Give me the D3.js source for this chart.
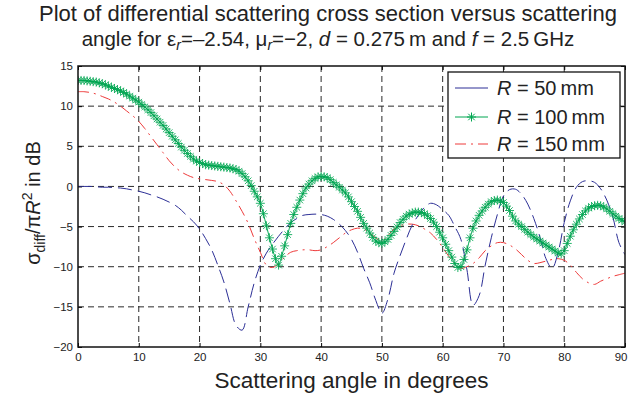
<!DOCTYPE html>
<html>
<head>
<meta charset="utf-8">
<script src="https://cdn.jsdelivr.net/npm/d3@7"></script>
<style>
  body { margin: 0; background: #fff; }
  text { font-family: "Liberation Sans", Arial, Helvetica, sans-serif; }
</style>
</head>
<body>
<div id="chart"></div>
<script>
// scattering angle in degrees
var angle = d3.range(0, 91);           // 1 degree steps (R = 50, 150)
var angleFine = d3.range(0, 90.5, 0.5); // 0.5 degree steps (R = 100)

// R = 50 mm
var r50 = [
  0.0, 0.0, 0.0, -0.05, -0.1, -0.1, -0.15, -0.2, -0.3, -0.45,
  -0.6, -0.8, -1.05, -1.3, -1.6, -1.95, -2.35, -2.95, -3.7, -4.4,
  -5.3, -6.5, -7.9, -9.8, -11.9, -14.6, -17.3, -17.9, -15.0, -12.0,
  -9.8, -8.3, -7.2, -6.2, -5.3, -4.5, -4.0, -3.6, -3.5, -3.45,
  -3.5, -3.7, -4.1, -4.7, -5.5, -6.6, -8.2, -10.2, -12.0, -14.2,
  -15.8, -14.0, -10.8, -8.6, -6.6, -4.8, -3.6, -2.6, -2.1, -2.3,
  -2.9, -3.6, -5.0, -6.6, -10.4, -14.8, -13.6, -9.8, -6.4, -3.5,
  -1.2, -0.4, -0.35, -1.0, -2.2, -4.0, -6.3, -9.0, -10.2, -8.2,
  -4.5, -1.8, -0.1, 0.6, 0.7, 0.5, -0.3, -1.7, -3.8, -7.0,
  -8.5
];

// R = 100 mm
var r100 = [
  13.2, 13.2, 13.2, 13.15, 13.1, 13.05, 13.0, 12.9, 12.8, 12.65,
  12.5, 12.35, 12.2, 12.05, 11.9, 11.7, 11.5, 11.25, 11.0, 10.75,
  10.5, 10.2, 9.9, 9.55, 9.2, 8.8, 8.4, 8.0, 7.6, 7.15,
  6.7, 6.25, 5.8, 5.35, 4.9, 4.5, 4.1, 3.75, 3.4, 3.15,
  3.0, 2.85, 2.7, 2.65, 2.6, 2.55, 2.5, 2.45, 2.4, 2.35,
  2.3, 2.2, 2.1, 1.9, 1.6, 1.2, 0.7, 0.1, -0.6, -1.3,
  -2.1, -3.4, -4.9, -6.4, -7.8, -9.0, -9.8, -8.7, -7.4, -6.0,
  -4.6, -3.5, -2.6, -1.7, -0.9, -0.2, 0.3, 0.7, 1.0, 1.2,
  1.25, 1.2, 1.1, 0.85, 0.5, 0.2, -0.1, -0.45, -0.8, -1.3,
  -1.9, -2.5, -3.1, -3.85, -4.6, -5.2, -5.8, -6.35, -6.8, -7.0,
  -7.1, -6.9, -6.6, -6.1, -5.6, -5.05, -4.5, -4.1, -3.7, -3.45,
  -3.3, -3.2, -3.2, -3.25, -3.4, -3.65, -4.0, -4.45, -5.0, -5.7,
  -6.4, -7.2, -8.0, -8.8, -9.6, -10.1, -10.0, -9.1, -7.9, -6.4,
  -5.2, -4.3, -3.6, -3.05, -2.6, -2.2, -1.9, -1.75, -1.7, -1.8,
  -2.0, -2.45, -3.0, -3.7, -4.3, -4.7, -5.0, -5.35, -5.7, -6.0,
  -6.3, -6.55, -6.8, -7.05, -7.3, -7.55, -7.8, -8.05, -8.3, -8.4,
  -8.0, -7.1, -6.2, -5.4, -4.7, -4.05, -3.5, -3.05, -2.7, -2.5,
  -2.4, -2.35, -2.4, -2.55, -2.8, -3.1, -3.4, -3.7, -4.0, -4.2,
  -4.4
];

// R = 150 mm
var r150 = [
  11.8, 11.8, 11.7, 11.5, 11.2, 10.9, 10.5, 10.0, 9.4, 8.8,
  8.1, 7.2, 6.2, 5.2, 4.2, 3.2, 2.4, 1.8, 1.4, 1.1,
  0.95, 0.85, 0.75, 0.6, 0.2, -0.6, -1.8, -3.1, -4.6, -6.5,
  -8.2, -9.8, -10.1, -9.6, -8.8, -8.2, -8.0, -7.9, -7.9, -8.0,
  -7.9, -7.5, -7.0, -6.4, -5.8, -5.4, -5.2, -5.3, -5.8, -6.4,
  -6.8, -6.1, -5.3, -4.9, -4.7, -4.7, -4.9, -5.3, -5.8, -6.6,
  -7.6, -8.7, -9.6, -10.2, -10.0, -9.6, -8.9, -8.0, -7.4, -7.0,
  -7.0, -7.3, -7.8, -8.5, -9.2, -9.6, -9.5, -9.3, -9.1, -9.0,
  -9.2, -9.8, -10.7, -11.5, -12.0, -12.2, -11.8, -11.5, -11.2, -11.0,
  -10.8
];

var xTicks = [0, 10, 20, 30, 40, 50, 60, 70, 80, 90];
var yTicks = [15, 10, 5, 0, -5, -10, -15, -20];
var legendLabels = ["50", "100", "150"];

// set the graph
var W = 629, H = 396;
var margin = {top: 66, right: 4, bottom: 49, left: 78},
    width = W - margin.left - margin.right,
    height = H - margin.top - margin.bottom;

var svg = d3.select("#chart")
  .append("svg")
    .attr("width", W)
    .attr("height", H);

var g = svg.append("g")
    .attr("transform", "translate(" + margin.left + "," + margin.top + ")");

var x = d3.scaleLinear().domain([0, 90]).range([0, width]);
var y = d3.scaleLinear().domain([-20, 15]).range([height, 0]);

// grid
g.append("g").selectAll("line")
  .data(xTicks.slice(1, -1))
  .enter().append("line")
    .attr("x1", d => x(d)).attr("x2", d => x(d))
    .attr("y1", 0).attr("y2", height)
    .attr("stroke", "#2a2a2a").attr("stroke-width", 1)
    .attr("stroke-dasharray", "6,4");
g.append("g").selectAll("line")
  .data(yTicks.slice(1, -1))
  .enter().append("line")
    .attr("y1", d => y(d)).attr("y2", d => y(d))
    .attr("x1", 0).attr("x2", width)
    .attr("stroke", "#2a2a2a").attr("stroke-width", 1)
    .attr("stroke-dasharray", "6,4");

// axes (ticks inside, MATLAB style)
var xAxis = g.append("g")
  .attr("transform", "translate(0," + height + ")")
  .call(d3.axisBottom(x).tickValues(xTicks).tickSizeInner(-4).tickSizeOuter(0).tickPadding(8));
var yAxis = g.append("g")
  .call(d3.axisLeft(y).tickValues(yTicks).tickSizeInner(-4).tickSizeOuter(0).tickPadding(8));
g.append("g")
  .attr("transform", "translate(" + width + ",0)")
  .call(d3.axisRight(y).tickValues(yTicks).tickSizeInner(-4).tickSizeOuter(0).tickFormat(""));
g.append("g")
  .call(d3.axisTop(x).tickValues(xTicks).tickSizeInner(-4).tickSizeOuter(0).tickFormat(""));

g.selectAll(".domain").remove();
g.selectAll(".tick line").attr("stroke", "#000");
g.selectAll(".tick text")
  .attr("font-family", "Liberation Sans, Arial, sans-serif")
  .attr("font-size", "11.5px")
  .attr("fill", "#222");
yAxis.selectAll(".tick text").attr("x", -5);
xAxis.selectAll(".tick text").attr("y", 6);
// keep the last label inside the window
xAxis.selectAll(".tick text").filter(d => d === 90).attr("text-anchor", "end").attr("dx", 2);

// clip
g.append("clipPath").attr("id", "clip")
  .append("rect").attr("width", width).attr("height", height);

var plot = g.append("g").attr("clip-path", "url(#clip)");

function lineFor(xs) {
  return d3.line()
    .x(function(d, i) { return x(xs[i]); })
    .y(function(d) { return y(d); })
    .curve(d3.curveCatmullRom);
}

var blue = "#2c2f96", green = "#00a651", red = "#ee3b3b";

plot.append("path").datum(r150)
  .attr("d", lineFor(angle)).attr("fill", "none")
  .attr("stroke", red).attr("stroke-width", 1)
  .attr("stroke-dasharray", "11,5,2,5");

plot.append("path").datum(r50)
  .attr("d", lineFor(angle)).attr("fill", "none")
  .attr("stroke", blue).attr("stroke-width", 1)
  .attr("stroke-dasharray", "14,6");

plot.append("path").datum(r100)
  .attr("d", lineFor(angleFine)).attr("fill", "none")
  .attr("stroke", green).attr("stroke-width", 1);

function star(s) {
  var a = s * 0.72;
  return "M" + (-s) + ",0L" + s + ",0M0," + (-s) + "L0," + s +
         "M" + (-a) + "," + (-a) + "L" + a + "," + a +
         "M" + (-a) + "," + a + "L" + a + "," + (-a);
}

plot.append("g").selectAll("path")
  .data(r100)
  .enter().append("path")
    .attr("transform", function(d, i) { return "translate(" + x(angleFine[i]) + "," + y(d) + ")"; })
    .attr("d", star(4.5))
    .attr("fill", "none")
    .attr("stroke", green)
    .attr("stroke-opacity", 0.85)
    .attr("stroke-width", 1);

// box
g.append("rect")
  .attr("width", width).attr("height", height)
  .attr("fill", "none").attr("stroke", "#111").attr("stroke-width", 1.5);

// legend
var lg = g.append("g").attr("transform", "translate(" + (448 - margin.left) + "," + (72 - margin.top) + ")");
lg.append("rect")
  .attr("width", 172).attr("height", 86)
  .attr("fill", "#fff").attr("stroke", "#111").attr("stroke-width", 1.3);

var legendRows = [16, 45, 72];
legendLabels.forEach(function(lab, i) {
  var row = lg.append("g").attr("transform", "translate(0," + legendRows[i] + ")");
  if (i === 0) {
    row.append("line").attr("x1", 7).attr("x2", 40).attr("stroke", blue).attr("stroke-width", 1);
  } else if (i === 1) {
    row.append("line").attr("x1", 7).attr("x2", 40).attr("stroke", green).attr("stroke-width", 1);
    row.append("path").attr("transform", "translate(23.5,0)").attr("d", star(4.5))
      .attr("fill", "none").attr("stroke", green);
  } else {
    row.append("line").attr("x1", 7).attr("x2", 40).attr("stroke", red).attr("stroke-width", 1)
      .attr("stroke-dasharray", "11,5,2,5");
  }
  var t = row.append("text")
    .attr("x", 49).attr("y", 7)
    .attr("font-size", "20px").attr("fill", "#222");
  t.append("tspan").attr("font-style", "italic").text("R");
  t.append("tspan").text(" = " + lab + "\u2009mm");
});

// axis labels
svg.append("text")
  .attr("x", margin.left + width / 2).attr("y", 388)
  .attr("text-anchor", "middle")
  .attr("font-size", "22.5px").attr("fill", "#222")
  .text("Scattering angle in degrees");

var yl = svg.append("text")
  .attr("transform", "translate(40," + 203 + ") rotate(-90)")
  .attr("text-anchor", "middle")
  .attr("font-size", "20px").attr("fill", "#222");
yl.append("tspan").text("\u03c3");
yl.append("tspan").attr("font-size", "14px").attr("dy", 5).text("diff");
yl.append("tspan").attr("dy", -5).text("/\u03c0");
yl.append("tspan").attr("font-style", "italic").text("R");
yl.append("tspan").attr("font-size", "14px").attr("dy", -8).text("2");
yl.append("tspan").attr("dy", 8).text(" in dB");

// title
svg.append("text")
  .attr("x", 328).attr("y", 21)
  .attr("text-anchor", "middle")
  .attr("font-size", "22px").attr("fill", "#222")
  .text("Plot of differential scattering cross section versus scattering");

var t2 = svg.append("text")
  .attr("x", 328).attr("y", 46)
  .attr("text-anchor", "middle")
  .attr("font-size", "20.5px").attr("fill", "#222");
t2.append("tspan").text("angle for \u03b5");
t2.append("tspan").attr("font-size", "14px").attr("font-style", "italic").attr("dy", 4).text("r");
t2.append("tspan").attr("dy", -4).text("=\u20132.54, \u03bc");
t2.append("tspan").attr("font-size", "14px").attr("font-style", "italic").attr("dy", 4).text("r");
t2.append("tspan").attr("dy", -4).text("=\u22122, ");
t2.append("tspan").attr("font-style", "italic").text("d");
t2.append("tspan").text(" = 0.275\u2009m and  ");
t2.append("tspan").attr("font-style", "italic").text("f");
t2.append("tspan").text(" = 2.5\u2009GHz");
</script>
</body>
</html>
